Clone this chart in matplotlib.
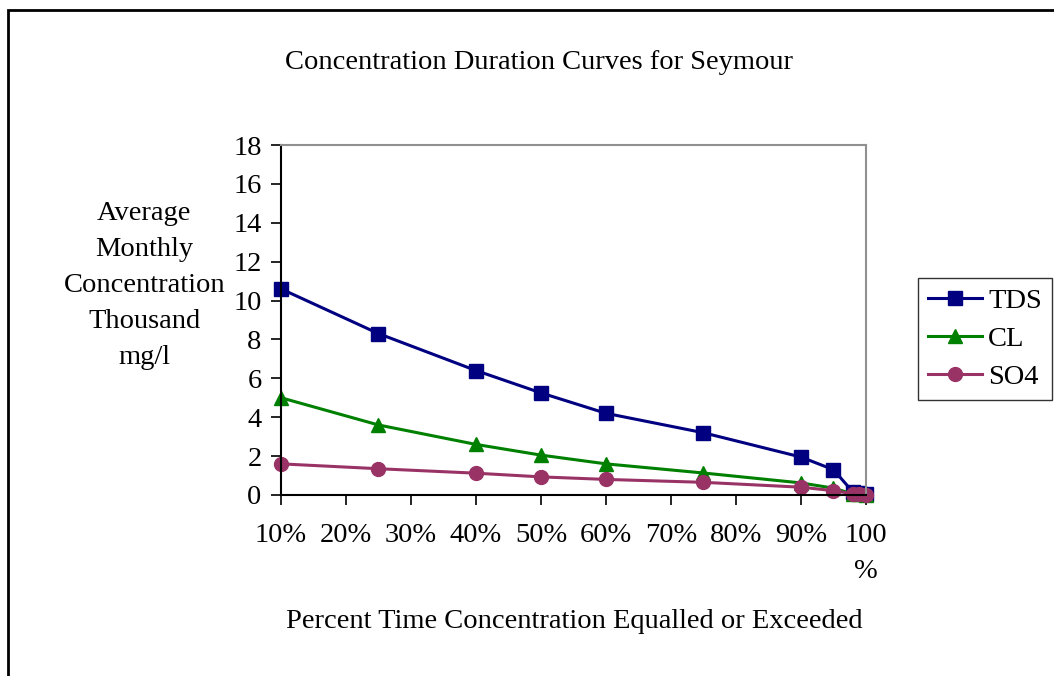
import matplotlib.pyplot as plt
from matplotlib.patches import Rectangle

plt.rcParams['font.family'] = ['Liberation Serif', 'DejaVu Serif']

# ── Data ──────────────────────────────────────────────────────────────────────
pct = [10, 25, 40, 50, 60, 75, 90, 95, 98, 99, 100]
tds = [10.6, 8.3, 6.4, 5.25, 4.2, 3.2, 1.95, 1.3, 0.15, 0.08, 0.03]
cl  = [5.0, 3.6, 2.6, 2.05, 1.6, 1.13, 0.62, 0.35, 0.05, 0.03, 0.0]
so4 = [1.6, 1.35, 1.12, 0.93, 0.8, 0.65, 0.4, 0.22, 0.06, 0.03, 0.0]

xticks = [10, 20, 30, 40, 50, 60, 70, 80, 90, 100]
xlabels = ['10%', '20%', '30%', '40%', '50%', '60%', '70%', '80%', '90%', '100\n%']
yticks = list(range(0, 19, 2))

FS = 20.5

fig = plt.figure(figsize=(10.54, 6.76), dpi=100)
ax = fig.add_axes([0.2666, 0.2678, 0.555, 0.5177])

ax.plot(pct, tds, color='#000080', lw=2.2, marker='s', ms=10, label='TDS')
ax.plot(pct, cl, color='#008000', lw=2.2, marker='^', ms=10, label='CL')
ax.plot(pct, so4, color='#993366', lw=2.2, marker='o', ms=10, label='SO4')

ax.set_xlim(10, 100)
ax.set_ylim(0, 18)
ax.set_xticks(xticks)
ax.set_xticklabels(xlabels, linespacing=1.6, va='top')
ax.set_yticks(yticks)
ax.tick_params(axis='x', direction='out', length=7, width=1.2, pad=13, labelsize=FS)
ax.tick_params(axis='y', direction='out', length=7, width=1.2, pad=7, labelsize=FS)

for s in ['top', 'right']:
    ax.spines[s].set_color('#909090')
    ax.spines[s].set_linewidth(1.5)
for s in ['left', 'bottom']:
    ax.spines[s].set_color('black')
    ax.spines[s].set_linewidth(1.5)
for m in ax.lines:
    m.set_clip_on(False)

fig.text(0.511, 0.908, 'Concentration Duration Curves for Seymour',
         ha='center', va='center', fontsize=FS)
fig.text(0.545, 0.081, 'Percent Time Concentration Equalled or Exceeded',
         ha='center', va='center', fontsize=FS)
fig.text(0.137, 0.578, 'Average\nMonthly\nConcentration\nThousand\nmg/l',
         ha='center', va='center', fontsize=FS, linespacing=1.58)

leg = fig.legend(loc='center', bbox_to_anchor=(0.9345, 0.4985), fontsize=FS,
                 frameon=True, fancybox=False, edgecolor='black',
                 handlelength=1.9, labelspacing=0.42, borderpad=0.35,
                 handletextpad=0.2, borderaxespad=0)
leg.get_frame().set_linewidth(1.0)

# outer chart frame (cropped at right and bottom)
fig.patches.append(Rectangle((8 / 1054, -0.05), 1.1, 0.05 + (676 - 10) / 676,
                             transform=fig.transFigure, fill=False,
                             edgecolor='black', lw=2, clip_on=False))

fig.savefig('out.png', dpi=100)
